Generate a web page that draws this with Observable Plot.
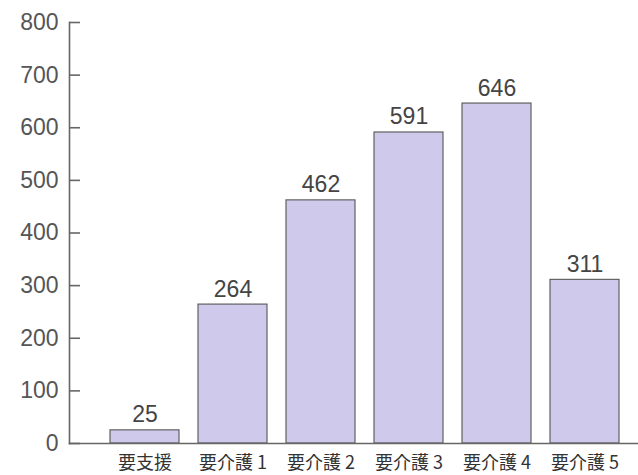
<!DOCTYPE html>
<html>
<head>
<meta charset="utf-8">
<script src="https://cdn.jsdelivr.net/npm/d3@7"></script>
<script src="https://cdn.jsdelivr.net/npm/@observablehq/plot@0.6"></script>
<style>
  html, body { margin: 0; padding: 0; background: #fff; }
</style>
</head>
<body>
<div id="chart"></div>
<script>
const categories = ["要支援", "要介護 1", "要介護 2", "要介護 3", "要介護 4", "要介護 5"];
const values = [25, 264, 462, 591, 646, 311];
const yTicks = [0, 100, 200, 300, 400, 500, 600, 700, 800];

const data = categories.map((c, i) => ({category: c, value: values[i]}));

const numFont = "'Liberation Sans', Arial, sans-serif";
const cjkFont = "'Noto Sans CJK JP', sans-serif";

const chart = Plot.plot({
  width: 638,
  height: 475,
  marginTop: 22,
  marginBottom: 32,
  marginLeft: 69,
  marginRight: 0,
  style: {background: "#fff"},
  x: {domain: categories, range: [98, 630], paddingInner: 0.22, paddingOuter: 0.11, label: null},
  y: {domain: [0, 800], label: null},
  marks: [
    Plot.barY(data, {x: "category", y: "value", fill: "#cfcaec", stroke: "#555", strokeWidth: 1.1}),
    Plot.text(data, {x: "category", y: "value", text: d => String(d.value), dy: -8, lineAnchor: "bottom", fontSize: 23, fill: "#444", fontFamily: numFont}),
    Plot.frame({anchor: "left", stroke: "#666", strokeWidth: 1.6}),
    Plot.frame({anchor: "bottom", stroke: "#666", strokeWidth: 1.6}),
    Plot.axisY({ticks: yTicks, tickSize: 0, tickPadding: 11, fontSize: 23, fill: "#555", fontFamily: numFont, label: null}),
    Plot.axisY({ticks: yTicks, tickSize: -11, text: null, stroke: "#666", strokeWidth: 1.6, label: null}),
    Plot.axisX({tickSize: 0, tickPadding: 13, fontSize: 18, fill: "#333", fontFamily: cjkFont, label: null})
  ]
});
document.getElementById("chart").appendChild(chart);
</script>
</body>
</html>
